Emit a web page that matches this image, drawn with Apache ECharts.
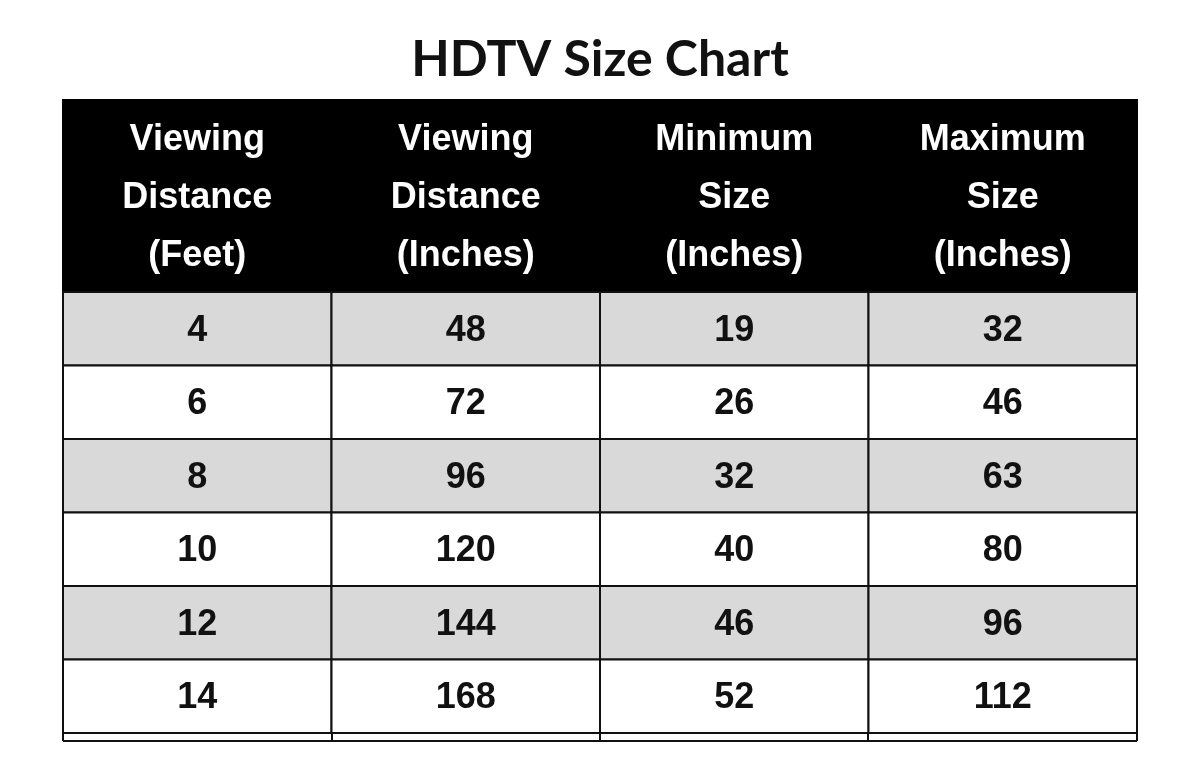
<!DOCTYPE html>
<html><head><meta charset="utf-8">
<script src="https://cdn.jsdelivr.net/npm/echarts@6/dist/echarts.min.js"></script>
<style>html,body{margin:0;padding:0;background:#fff}#c{width:1200px;height:771px}</style>
</head><body><div id="c"></div>
<script>
const headers = ["Viewing\nDistance\n(Feet)","Viewing\nDistance\n(Inches)","Minimum\nSize\n(Inches)","Maximum\nSize\n(Inches)"];
const feet = [4,6,8,10,12,14];
const inches = [48,72,96,120,144,168];
const minSize = [19,26,32,40,46,52];
const maxSize = [32,46,63,80,96,112];
const cols = [0,1,2,3];
const rows = feet.map((_, i) => i);

const bodyData = [];
rows.forEach(r => {
  [feet, inches, minSize, maxSize].forEach((arr, c) => bodyData.push([c, r, arr[r]]));
});
const headData = headers.map((h, c) => [c, 0, h]);

const FONT = '"Liberation Sans", Arial, sans-serif';
function cell(params, api, header) {
  const c = api.value(0), r = api.value(1);
  const p = api.coord([c, r]);
  const s = api.size([1, 1]);
  const x = p[0] - s[0] / 2, y = p[1] - s[1] / 2;
  const fill = header ? '#000' : (r % 2 === 0 ? '#d9d9d9' : '#fff');
  return {
    type: 'group',
    children: [
      {type: 'rect', shape: {x, y, width: s[0], height: s[1]},
       style: {fill, stroke: header ? '#000' : '#111', lineWidth: 2}},
      {type: 'text', x: p[0], y: p[1] + (header ? 2 : 2),
       style: {text: String(api.value(2)), fill: header ? '#fff' : '#111',
         font: 'bold 36px ' + FONT, align: 'center', verticalAlign: 'middle',
         lineHeight: 58}}
    ]
  };
}
const chart = echarts.init(document.getElementById('c'));
chart.setOption({
  animation: false,
  title: {text: 'HDTV Size Chart', left: 'center', top: 30,
    textStyle: {fontFamily: 'Lato, "Open Sans", sans-serif', fontWeight: 'bold', fontSize: 50, color: '#111'}},
  grid: [
    {left: 63, right: 63, top: 100, height: 192},
    {left: 63, right: 63, top: 292, height: 441}
  ],
  xAxis: [
    {type: 'category', data: cols, gridIndex: 0, show: false},
    {type: 'category', data: cols, gridIndex: 1, show: false}
  ],
  yAxis: [
    {type: 'category', data: [0], gridIndex: 0, show: false},
    {type: 'category', data: rows, gridIndex: 1, inverse: true, show: false}
  ],
  series: [
    {type: 'custom', xAxisIndex: 0, yAxisIndex: 0, data: headData,
     renderItem: (p, a) => cell(p, a, true)},
    {type: 'custom', xAxisIndex: 1, yAxisIndex: 1, data: bodyData,
     renderItem: (p, a) => cell(p, a, false)}
  ],
  graphic: [
    {type: 'line', shape: {x1: 63, y1: 741, x2: 1137, y2: 741}, style: {stroke: '#111', lineWidth: 2}},
    {type: 'line', shape: {x1: 63, y1: 733, x2: 63, y2: 741}, style: {stroke: '#111', lineWidth: 2}},
    {type: 'line', shape: {x1: 332, y1: 733, x2: 332, y2: 741}, style: {stroke: '#111', lineWidth: 2}},
    {type: 'line', shape: {x1: 600, y1: 733, x2: 600, y2: 741}, style: {stroke: '#111', lineWidth: 2}},
    {type: 'line', shape: {x1: 868, y1: 733, x2: 868, y2: 741}, style: {stroke: '#111', lineWidth: 2}},
    {type: 'line', shape: {x1: 1137, y1: 733, x2: 1137, y2: 741}, style: {stroke: '#111', lineWidth: 2}}
  ]
});
</script></body></html>
